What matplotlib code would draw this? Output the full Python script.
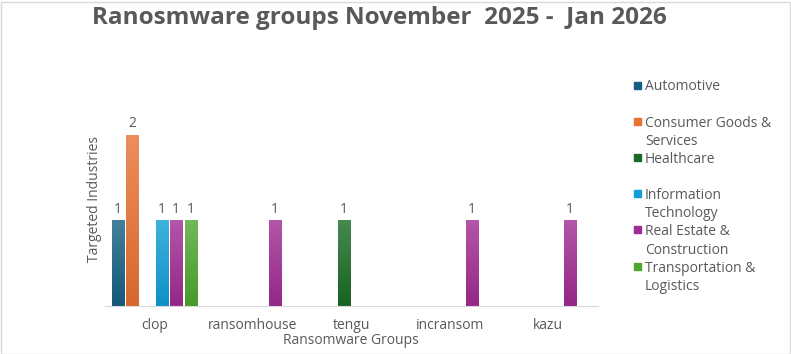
import numpy as np
import matplotlib
matplotlib.use("Agg")
import matplotlib.pyplot as plt
from matplotlib.colors import to_rgb
from matplotlib.patches import Rectangle

plt.rcParams['font.family'] = ['Open Sans', 'DejaVu Sans']

groups = ["clop", "ransomhouse", "tengu", "incransom", "kazu"]
industries = ["Automotive", "Consumer Goods &\nServices", "Healthcare",
              "Information\nTechnology", "Real Estate &\nConstruction",
              "Transportation &\nLogistics"]
automotive = [1, 0, 0, 0, 0]
consumer_goods = [2, 0, 0, 0, 0]
healthcare = [0, 0, 1, 0, 0]
info_tech = [1, 0, 0, 0, 0]
real_estate = [1, 1, 0, 1, 1]
transport = [1, 0, 0, 0, 0]
series = [automotive, consumer_goods, healthcare, info_tech, real_estate, transport]
colors = ["#156082", "#E97132", "#196B24", "#0F9ED5", "#A02B93", "#4EA72E"]

TXT = "#595959"
W, H = 791, 354
fig = plt.figure(figsize=(W / 100, H / 100), dpi=100)
fig.patches.append(Rectangle((0.5 / W, 0.5 / H), 1 - 2 / W, 1 - 2 / H, transform=fig.transFigure,
                             fill=False, edgecolor="#d9d9d9", lw=1))

ax = fig.add_axes([105 / W, (H - 305.7) / H, 492.5 / W, 213.75 / H])

x = np.arange(len(groups))
slot = 0.149
bw = 0.122
for i, (vals, c) in enumerate(zip(series, colors)):
    base = np.array(to_rgb(c))
    top = base + (1 - base) * 0.2
    bot = base * 0.92
    grad = np.linspace(0, 1, 64)[:, None, None]
    img = bot * (1 - grad) + top * grad
    pos = x + (i - 2.5) * slot
    bars = ax.bar(pos, vals, width=bw, color=c, linewidth=0)
    for b, v in zip(bars, vals):
        if v == 0:
            continue
        im = ax.imshow(img, extent=[b.get_x(), b.get_x() + b.get_width(), 0, v],
                       origin="lower", aspect="auto", zorder=2)
        im.set_clip_path(b)
        ax.annotate(str(v), (b.get_x() + b.get_width() / 2, v), xytext=(0, 5.5),
                    textcoords="offset points", ha="center", va="baseline",
                    fontsize=10, color=TXT)

ax.set_xlim(-0.5, len(groups) - 0.5)
ax.set_ylim(0, 2.5)
ax.set_xticks(x)
ax.set_xticklabels(groups, fontsize=10, color=TXT)
ax.tick_params(axis="x", length=0, pad=9)
ax.set_yticks([])
for s in ["top", "right", "left"]:
    ax.spines[s].set_visible(False)
ax.spines["bottom"].set_color("#d9d9d9")
ax.set_xlabel("Ransomware Groups", fontsize=10, color=TXT, labelpad=0)
ax.set_ylabel("Targeted Industries", fontsize=10, color=TXT, labelpad=2)

fig.text(379 / W, 1 - 18 / H, "Ranosmware groups November  2025 -  Jan 2026",
         ha="center", va="center", fontsize=17.5, fontweight="bold", color=TXT)

# legend
for i, (name, c) in enumerate(zip(industries, colors)):
    yc = 85 + i * 36.2
    fig.patches.append(Rectangle((634 / W, 1 - (yc + 3.5) / H), 7 / W, 7 / H,
                                 transform=fig.transFigure, color=c))
    fig.text(645 / W, 1 - (yc - 5.5) / H, name, ha="left", va="top",
             fontsize=10, color=TXT, linespacing=1.3)

fig.savefig("out.png", dpi=100)
